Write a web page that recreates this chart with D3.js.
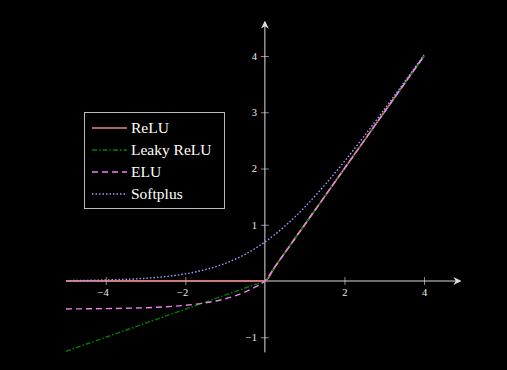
<!DOCTYPE html>
<html>
<head>
<meta charset="utf-8">
<script src="https://cdn.jsdelivr.net/npm/d3@7"></script>
<style>
  body { margin: 0; background: #000; }
  svg { display: block; }
  .tick text { font-family: "Liberation Serif", "DejaVu Serif", serif; font-size: 10.5px; fill: #eee; }
  .legend text { font-family: "Liberation Serif", "DejaVu Serif", serif; font-size: 15.5px; fill: #fff; }
</style>
</head>
<body>
<div class="js-chart"></div>
<script>
// sample points along x for every curve
let xs = [-5, -4.5, -4, -3.5, -3, -2.5, -2, -1.75, -1.5, -1.25, -1, -0.75, -0.5, -0.25, 0, 0.25, 0.5, 0.75, 1, 1.5, 2, 2.5, 3, 3.5, 4];
let names = ["ReLU", "Leaky ReLU", "ELU", "Softplus"];
let colors = ["#f08080", "#008000", "#ee82ee", "#9f9fff"];
let dashes = ["none", "5,2,1.5,2", "6,4", "1.5,2"];
let xTicks = [-4, -2, 2, 4];
let yTicks = [-1, 1, 2, 3, 4];

// activation functions evaluated at xs
let relu = xs.map((x) => Math.max(0, x));
let leaky = xs.map((x) => x < 0 ? 0.25 * x : x);
let elu = xs.map((x) => x < 0 ? 0.5 * (Math.exp(x) - 1) : x);
let softplus = xs.map((x) => Math.log(1 + Math.exp(x)));
let series = [relu, leaky, elu, softplus];

function drawChart() {
  var width = 507;
  var height = 370;

  var x = d3.scaleLinear().domain([-5, 4]).range([66, 424]);
  var y = d3.scaleLinear().domain([0, 4]).range([281, 56]);

  var svg = d3.select('.js-chart').append('svg')
    .attr('width', width)
    .attr('height', height)
    .style('background', '#000');

  svg.append('defs').append('marker')
    .attr('id', 'arrow')
    .attr('viewBox', '0 0 10 10')
    .attr('refX', 8)
    .attr('refY', 5)
    .attr('markerWidth', 8)
    .attr('markerHeight', 8)
    .attr('markerUnits', 'userSpaceOnUse')
    .attr('orient', 'auto')
    .append('path')
    .attr('d', 'M0,0 L10,5 L0,10 L3,5 Z')
    .attr('fill', '#ddd');

  // x axis through y = 0
  var xAxis = svg.append('g')
    .attr('transform', `translate(0,${y(0)})`)
    .call(d3.axisBottom(x).tickValues(xTicks).tickSize(0).tickFormat((d) => d < 0 ? '\u2212' + (-d) : d));
  xAxis.select('.domain').remove();
  xAxis.selectAll('.tick line').attr('y1', -4).attr('y2', 4).attr('stroke', '#888');
  xAxis.selectAll('.tick text').attr('y', 8).attr('dy', '0.71em')
    .attr('dx', (d) => d < 0 ? '-0.3em' : 0);
  svg.append('line')
    .attr('x1', x(-5)).attr('x2', x(4.9))
    .attr('y1', y(0)).attr('y2', y(0))
    .attr('stroke', '#ddd').attr('stroke-width', 1)
    .attr('marker-end', 'url(#arrow)');

  // y axis through x = 0
  var yAxis = svg.append('g')
    .attr('transform', `translate(${x(0)},0)`)
    .call(d3.axisLeft(y).tickValues(yTicks).tickSize(0).tickFormat((d) => d < 0 ? '\u2212' + (-d) : d));
  yAxis.select('.domain').remove();
  yAxis.selectAll('.tick line').attr('x1', -4).attr('x2', 4).attr('stroke', '#888');
  yAxis.selectAll('.tick text').attr('x', -8);
  svg.append('line')
    .attr('x1', x(0)).attr('x2', x(0))
    .attr('y1', y(-1.27)).attr('y2', y(4.6))
    .attr('stroke', '#ddd').attr('stroke-width', 1)
    .attr('marker-end', 'url(#arrow)');

  // curves
  var line = d3.line()
    .x((d, i) => x(xs[i]))
    .y((d) => y(d))
    .curve(d3.curveMonotoneX);

  svg.selectAll('.curve')
    .data(series)
    .enter()
    .append('path')
    .attr('class', 'curve')
    .attr('d', (d) => line(d))
    .attr('fill', 'none')
    .attr('stroke', (d, i) => colors[i])
    .attr('stroke-width', (d, i) => i === 0 ? 1.6 : 1.4)
    .attr('stroke-dasharray', (d, i) => dashes[i]);

  // legend
  var legend = svg.append('g').attr('class', 'legend');
  legend.append('rect')
    .attr('x', 84.5).attr('y', 112.5)
    .attr('width', 140).attr('height', 96)
    .attr('fill', '#000')
    .attr('stroke', '#bbb');
  var rows = legend.selectAll('.row')
    .data(names)
    .enter()
    .append('g')
    .attr('transform', (d, i) => `translate(0,${128 + i * 22})`);
  rows.append('line')
    .attr('x1', 92).attr('x2', 127)
    .attr('stroke', (d, i) => colors[i])
    .attr('stroke-width', 1.4)
    .attr('stroke-dasharray', (d, i) => dashes[i]);
  rows.append('text')
    .attr('x', 131)
    .attr('dy', '0.33em')
    .text((d) => d);
}

drawChart();
</script>
</body>
</html>
